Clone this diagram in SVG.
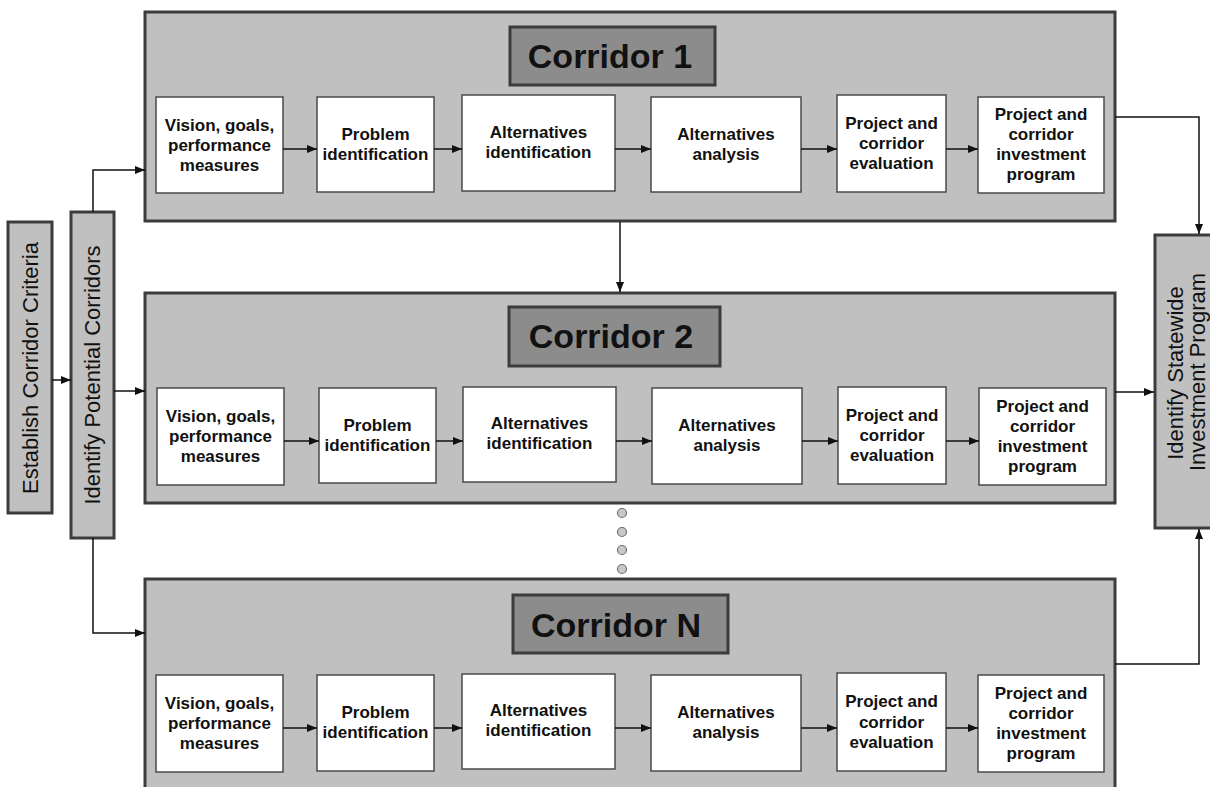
<svg xmlns="http://www.w3.org/2000/svg" width="1210" height="787" viewBox="0 0 1210 787">
  <defs>
    <style>
      .panel { fill: #c0c0c0; stroke: #3c3c3c; stroke-width: 3; }
      .title { fill: #8c8c8c; stroke: #3c3c3c; stroke-width: 3; }
      .step { fill: #ffffff; stroke: #4a4a4a; stroke-width: 1.5; }
      .side { fill: #c0c0c0; stroke: #3c3c3c; stroke-width: 3; }
      .lbl { font-family: "Liberation Sans", Arial, sans-serif; font-weight: bold; font-size: 17px; fill: #111; text-anchor: middle; }
      .ttl { font-family: "Liberation Sans", Arial, sans-serif; font-weight: bold; font-size: 34px; fill: #111; text-anchor: middle; }
      .vt { font-family: "Liberation Sans", Arial, sans-serif; font-size: 22px; fill: #111; text-anchor: middle; }
      .wire { fill: none; stroke: #111; stroke-width: 1.5; }
      .dot { fill: #c8c8c8; stroke: #707070; stroke-width: 1.2; }
    </style>
    <marker id="arrow" viewBox="0 0 10 8" refX="10" refY="4" markerWidth="10" markerHeight="8" markerUnits="userSpaceOnUse" orient="auto">
      <path d="M0,0 L10,4 L0,8 z" fill="#111"/>
    </marker>
  </defs>

  <rect width="1210" height="787" fill="#ffffff"/>

  <!-- Left-hand process columns -->
  <g id="establish-criteria">
    <rect class="side" x="8" y="222" width="44" height="291"/>
    <text class="vt" transform="translate(38,368) rotate(-90)">Establish Corridor Criteria</text>
  </g>
  <g id="identify-corridors">
    <rect class="side" x="71" y="212" width="43" height="326"/>
    <text class="vt" transform="translate(100,375) rotate(-90)">Identify Potential Corridors</text>
  </g>

  <!-- Corridor 1 -->
  <g id="corridor-1">
    <rect class="panel" x="145" y="12" width="970" height="209"/>
    <rect class="title" x="510" y="27" width="205" height="58"/>
    <text class="ttl" x="610" y="68">Corridor 1</text>
    <g id="c1-vision"><rect class="step" x="156" y="97" width="127" height="96"/>
      <text class="lbl" x="219.5" y="131">Vision, goals,</text><text class="lbl" x="219.5" y="151">performance</text><text class="lbl" x="219.5" y="171">measures</text></g>
    <g id="c1-problem"><rect class="step" x="317" y="97" width="117" height="95"/>
      <text class="lbl" x="375.5" y="140">Problem</text><text class="lbl" x="375.5" y="160">identification</text></g>
    <g id="c1-alt-id"><rect class="step" x="462" y="95" width="153" height="96"/>
      <text class="lbl" x="538.5" y="138">Alternatives</text><text class="lbl" x="538.5" y="158">identification</text></g>
    <g id="c1-alt-an"><rect class="step" x="651" y="97" width="150" height="95"/>
      <text class="lbl" x="726" y="140">Alternatives</text><text class="lbl" x="726" y="160">analysis</text></g>
    <g id="c1-eval"><rect class="step" x="837" y="95" width="109" height="97"/>
      <text class="lbl" x="891.5" y="129">Project and</text><text class="lbl" x="891.5" y="149">corridor</text><text class="lbl" x="891.5" y="169">evaluation</text></g>
    <g id="c1-program"><rect class="step" x="978" y="97" width="126" height="96"/>
      <text class="lbl" x="1041" y="120">Project and</text><text class="lbl" x="1041" y="140">corridor</text><text class="lbl" x="1041" y="160">investment</text><text class="lbl" x="1041" y="180">program</text></g>
  </g>

  <!-- Corridor 2 -->
  <g id="corridor-2">
    <rect class="panel" x="145" y="293" width="970" height="210"/>
    <rect class="title" x="509" y="307" width="211" height="59"/>
    <text class="ttl" x="611" y="348">Corridor 2</text>
    <g id="c2-vision"><rect class="step" x="157" y="388" width="127" height="97"/>
      <text class="lbl" x="220.5" y="422">Vision, goals,</text><text class="lbl" x="220.5" y="442">performance</text><text class="lbl" x="220.5" y="462">measures</text></g>
    <g id="c2-problem"><rect class="step" x="319" y="388" width="117" height="95"/>
      <text class="lbl" x="377.5" y="431">Problem</text><text class="lbl" x="377.5" y="451">identification</text></g>
    <g id="c2-alt-id"><rect class="step" x="463" y="387" width="153" height="95"/>
      <text class="lbl" x="539.5" y="429">Alternatives</text><text class="lbl" x="539.5" y="449">identification</text></g>
    <g id="c2-alt-an"><rect class="step" x="652" y="388" width="150" height="96"/>
      <text class="lbl" x="727" y="431">Alternatives</text><text class="lbl" x="727" y="451">analysis</text></g>
    <g id="c2-eval"><rect class="step" x="838" y="387" width="108" height="97"/>
      <text class="lbl" x="892" y="421">Project and</text><text class="lbl" x="892" y="441">corridor</text><text class="lbl" x="892" y="461">evaluation</text></g>
    <g id="c2-program"><rect class="step" x="979" y="388" width="127" height="97"/>
      <text class="lbl" x="1042.5" y="412">Project and</text><text class="lbl" x="1042.5" y="432">corridor</text><text class="lbl" x="1042.5" y="452">investment</text><text class="lbl" x="1042.5" y="472">program</text></g>
  </g>

  <!-- Ellipsis between corridors -->
  <g id="more-corridors">
    <circle class="dot" cx="622" cy="513" r="4.5"/>
    <circle class="dot" cx="622" cy="532" r="4.5"/>
    <circle class="dot" cx="622" cy="550" r="4.5"/>
    <circle class="dot" cx="622" cy="569" r="4.5"/>
  </g>

  <!-- Corridor N -->
  <g id="corridor-n">
    <rect class="panel" x="145" y="579" width="970" height="230"/>
    <rect class="title" x="513" y="595" width="215" height="58"/>
    <text class="ttl" x="616" y="637">Corridor N</text>
    <g id="cn-vision"><rect class="step" x="156" y="675" width="127" height="97"/>
      <text class="lbl" x="219.5" y="709">Vision, goals,</text><text class="lbl" x="219.5" y="729">performance</text><text class="lbl" x="219.5" y="749">measures</text></g>
    <g id="cn-problem"><rect class="step" x="317" y="675" width="117" height="96"/>
      <text class="lbl" x="375.5" y="718">Problem</text><text class="lbl" x="375.5" y="738">identification</text></g>
    <g id="cn-alt-id"><rect class="step" x="462" y="674" width="153" height="95"/>
      <text class="lbl" x="538.5" y="716">Alternatives</text><text class="lbl" x="538.5" y="736">identification</text></g>
    <g id="cn-alt-an"><rect class="step" x="651" y="675" width="150" height="96"/>
      <text class="lbl" x="726" y="718">Alternatives</text><text class="lbl" x="726" y="738">analysis</text></g>
    <g id="cn-eval"><rect class="step" x="837" y="673" width="109" height="98"/>
      <text class="lbl" x="891.5" y="707">Project and</text><text class="lbl" x="891.5" y="728">corridor</text><text class="lbl" x="891.5" y="748">evaluation</text></g>
    <g id="cn-program"><rect class="step" x="978" y="675" width="126" height="97"/>
      <text class="lbl" x="1041" y="699">Project and</text><text class="lbl" x="1041" y="719">corridor</text><text class="lbl" x="1041" y="739">investment</text><text class="lbl" x="1041" y="759">program</text></g>
  </g>

  <!-- Right-hand statewide program -->
  <g id="statewide-program">
    <rect class="side" x="1155" y="235" width="62" height="293"/>
    <text class="vt" transform="translate(1183,373) rotate(-90)">Identify Statewide</text>
    <text class="vt" transform="translate(1205,372) rotate(-90)">Investment Program</text>
  </g>

  <!-- Connectors -->
  <g id="connectors" class="wire" marker-end="url(#arrow)">
    <path d="M52,380 H71"/>
    <path d="M114,391 H145"/>
    <path d="M93,212 V170 H145"/>
    <path d="M93,538 V633 H145"/>
    <path d="M620,222 V292"/>

    <path d="M283,149 H317"/>
    <path d="M434,149 H462"/>
    <path d="M615,149 H651"/>
    <path d="M801,149 H837"/>
    <path d="M946,149 H978"/>

    <path d="M284,441 H319"/>
    <path d="M436,441 H463"/>
    <path d="M616,441 H652"/>
    <path d="M802,441 H838"/>
    <path d="M946,441 H979"/>

    <path d="M283,728 H317"/>
    <path d="M434,728 H462"/>
    <path d="M615,728 H651"/>
    <path d="M801,728 H837"/>
    <path d="M946,728 H978"/>

    <path d="M1115,117 H1199 V234"/>
    <path d="M1115,392 H1154"/>
    <path d="M1115,664 H1199 V529"/>
  </g>
</svg>
